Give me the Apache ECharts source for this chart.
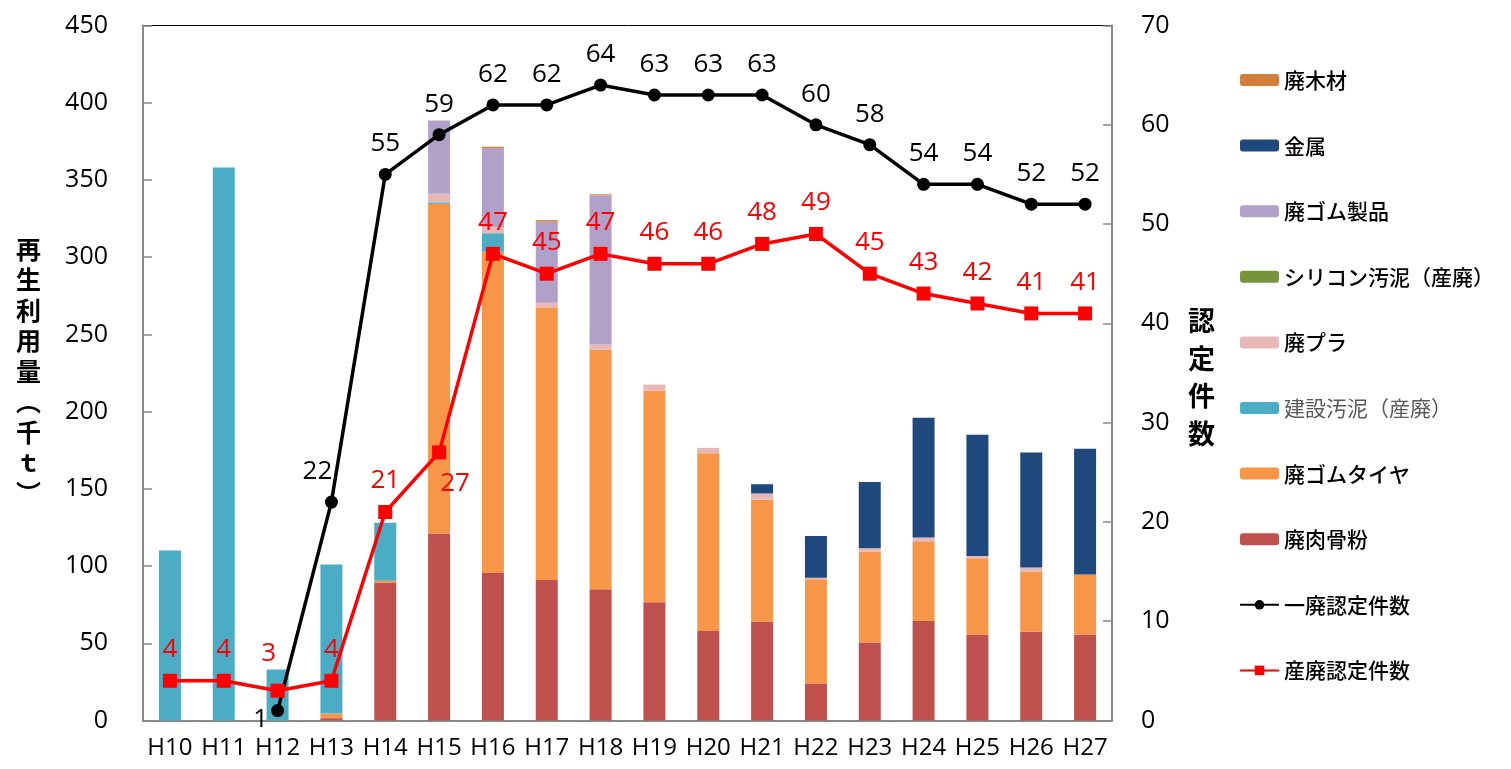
<!DOCTYPE html>
<html>
<head>
<meta charset="utf-8">
<script src="https://cdn.jsdelivr.net/npm/echarts@6/dist/echarts.min.js"></script>
<style>html,body{margin:0;padding:0;background:#fff}#c{width:1511px;height:769px}</style>
</head>
<body>
<div id="c"></div>
<script>
const categories = ['H10','H11','H12','H13','H14','H15','H16','H17','H18','H19','H20','H21','H22','H23','H24','H25','H26','H27'];
const meatBoneMeal = [0,0,0,1.5,89,121,95.5,91,85,76.5,58,64,24,50.5,64.5,55.5,57.5,55.5];
const wasteTires   = [0,0,0,3,1.5,213.5,208,176.5,155,137,115,79,67.5,59,51.5,49.5,39,39];
const constSludge  = [110,358,33,96.5,37.5,1,12,0,0,0,0,0,0,0,0,0,0,0];
const wastePlastic = [0,0,0,0,0,5.5,4,3,3.5,4,3.5,4,1,2,2.5,1.5,2.5,0];
const siliconSludge= [0,0,0,0,0,0,0,0,0,0,0,0,0,0,0,0,0,0];
const rubberGoods  = [0,0,0,0,0,47.5,51,52.5,96.5,0,0,0,0,0,0,0,0,0];
const metal        = [0,0,0,0,0,0,0,0,0,0,0,6,27,43,77.5,78.5,74.5,81.5];
const wasteWood    = [0,0,0,0,0,0,1,1,0.7,0,0,0,0,0,0,0,0,0];
const ippaiCount   = [null,null,1,22,55,59,62,62,64,63,63,63,60,58,54,54,52,52];
const sanpaiCount  = [4,4,3,4,21,27,47,45,47,46,46,48,49,45,43,42,41,41];
const leftTicks = {min:0, max:450, interval:50};
const rightTicks = {min:0, max:70, interval:10};

const FONT = "'Open Sans','Noto Sans CJK JP',sans-serif";
const JP = "'Noto Sans CJK JP',sans-serif";

const ippaiLabelOverrides = {2:{position:'left',distance:3,offset:[0,9]},3:{offset:[-14,0]}};
const sanpaiLabelOverrides = {2:{offset:[-9,-6]},5:{position:'bottom',offset:[16,0]}};

function withLabels(values, overrides){
  return values.map((v,i)=> overrides[i] ? {value:v,label:overrides[i]} : v);
}

function barSeries(name, data, color){
  return {name, type:'bar', stack:'total', data, barWidth:22,
    itemStyle:{color}, emphasis:{disabled:true}};
}

const chart = echarts.init(document.getElementById('c'));
chart.setOption({
  animation:false,
  textStyle:{fontFamily:FONT},
  grid:{left:143, right:399, top:25.5, bottom:48.5, show:true, borderColor:'#000', borderWidth:1},
  legend:{
    orient:'vertical', left:1239, top:68, padding:0, itemWidth:39, itemHeight:12, itemGap:41.6,
    textStyle:{fontFamily:JP, fontSize:21, color:'#000', lineHeight:24, fontWeight:500},
    data:['廃木材','金属','廃ゴム製品','シリコン汚泥（産廃）','廃プラ',
      {name:'建設汚泥（産廃）', textStyle:{color:'#595959', fontWeight:'normal'}},
      '廃ゴムタイヤ','廃肉骨粉','一廃認定件数','産廃認定件数']
  },
  xAxis:{
    type:'category', data:categories,
    axisLine:{lineStyle:{color:'#898989', width:2}},
    axisTick:{inside:true, length:8, lineStyle:{color:'#898989', width:1.5}},
    axisLabel:{interval:0, hideOverlap:false, fontSize:24, color:'#000', margin:16, fontFamily:FONT}
  },
  yAxis:[
    {type:'value', min:leftTicks.min, max:leftTicks.max, interval:leftTicks.interval, position:'left',
     splitLine:{show:false},
     axisLine:{show:true, lineStyle:{color:'#898989', width:2}},
     axisTick:{show:true, inside:true, length:9, lineStyle:{color:'#898989', width:1.5}},
     axisLabel:{fontSize:25, color:'#000', margin:35, fontFamily:FONT}},
    {type:'value', min:rightTicks.min, max:rightTicks.max, interval:rightTicks.interval, position:'right',
     splitLine:{show:false},
     axisLine:{show:true, lineStyle:{color:'#898989', width:2}},
     axisTick:{show:true, inside:true, length:9, lineStyle:{color:'#898989', width:1.5}},
     axisLabel:{fontSize:25, color:'#000', margin:29, fontFamily:FONT}}
  ],
  graphic:[
    {type:'text', left:16, top:234, style:{text:'再\n生\n利\n用\n量\n︵\n千\nｔ\n︶', font:'bold 25px '+JP, fill:'#000', lineHeight:30.5, align:'center'}},
    {type:'text', left:1188, top:302, style:{text:'認\n定\n件\n数', font:'bold 27px '+JP, fill:'#000', lineHeight:37.5, align:'center'}}
  ],
  series:[
    barSeries('廃肉骨粉', meatBoneMeal, '#C0504D'),
    barSeries('廃ゴムタイヤ', wasteTires, '#F79646'),
    barSeries('建設汚泥（産廃）', constSludge, '#4BACC6'),
    barSeries('廃プラ', wastePlastic, '#E6B9B8'),
    barSeries('シリコン汚泥（産廃）', siliconSludge, '#77933C'),
    barSeries('廃ゴム製品', rubberGoods, '#B1A0C7'),
    barSeries('金属', metal, '#1F497D'),
    barSeries('廃木材', wasteWood, '#D07E3A'),
    {name:'一廃認定件数', type:'line', yAxisIndex:1, data:withLabels(ippaiCount, ippaiLabelOverrides),
     symbol:'circle', symbolSize:13, z:5,
     lineStyle:{color:'#000', width:3.5}, itemStyle:{color:'#000'},
     label:{show:true, position:'top', distance:11, fontSize:26, color:'#000', fontFamily:FONT},
     emphasis:{disabled:true}},
    {name:'産廃認定件数', type:'line', yAxisIndex:1, data:withLabels(sanpaiCount, sanpaiLabelOverrides),
     symbol:'rect', symbolSize:14, z:6,
     lineStyle:{color:'#FF0000', width:3.5}, itemStyle:{color:'#FF0000'},
     label:{show:true, position:'top', distance:11, fontSize:26, color:'#FF0000', fontFamily:FONT},
     emphasis:{disabled:true}}
  ]
});
</script>
</body>
</html>
